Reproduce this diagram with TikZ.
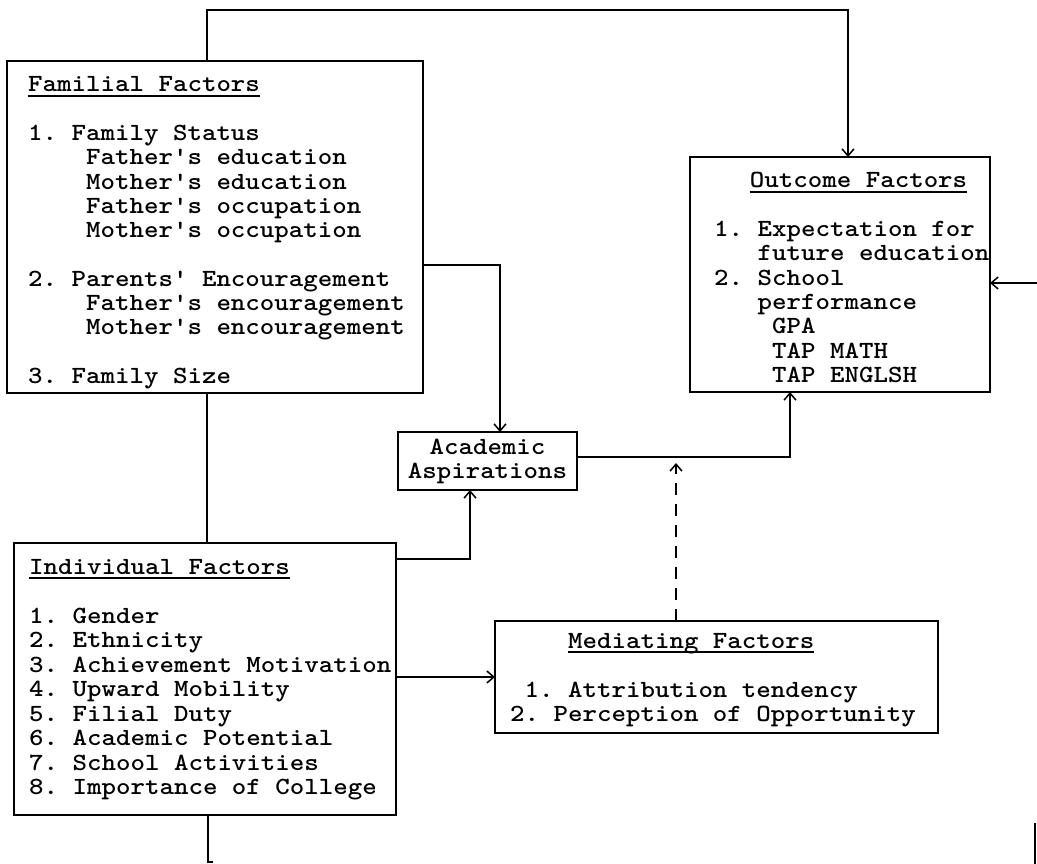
\documentclass[tikz,border=0pt]{standalone}
\usepackage{fontspec}
\usepackage{graphicx}
\usetikzlibrary{arrows.meta}
\newsavebox\ulbox
\newcommand\myul[1]{\sbox\ulbox{#1}\rlap{\rule[-4.6pt]{\wd\ulbox}{1.5pt}}\usebox\ulbox}
\newcommand\q{\textquotesingle}
\newcommand\wide[1]{\scalebox{1.117}[1]{#1}}
\tikzset{
  box/.style={draw, line width=1.5pt, inner sep=0pt, outer sep=0pt, anchor=north west},
  txt/.style={inner sep=0pt, anchor=base west, font=\ttfamily\bfseries\frenchspacing\fontsize{24.7pt}{24.3pt}\selectfont},
  txtb/.style={txt, font=\ttfamily\bfseries\frenchspacing\fontsize{24.7pt}{24.5pt}\selectfont},
  link/.style={line width=1.5pt},
  arr/.style={link, -{Straight Barb[length=7pt,width=12pt,line width=1.5pt]}},
}
\begin{document}
\begin{tikzpicture}[x=1pt, y=-1pt]
\useasboundingbox (0,0) rectangle (1037,864);

% boxes
\node[box, minimum width=416pt, minimum height=332pt] (fam) at (7,61) {};
\node[box, minimum width=300pt, minimum height=235pt] (out) at (690,157) {};
\node[box, minimum width=179pt, minimum height=58pt] (asp) at (398,432) {};
\node[box, minimum width=382pt, minimum height=272pt] (ind) at (14,543) {};
\node[box, minimum width=443pt, minimum height=112pt] (med) at (495,621) {};

% texts
\node[txt] (famtxt) at (28,92) {\wide{\begin{tabular}[t]{@{}l@{}}
\myul{Familial Factors}\\
\\
1. Family Status\\
\phantom{0000}Father\q s education\\
\phantom{0000}Mother\q s education\\
\phantom{0000}Father\q s occupation\\
\phantom{0000}Mother\q s occupation\\
\\
2. Parents\q{} Encouragement\\
\phantom{0000}Father\q s encouragement\\
\phantom{0000}Mother\q s encouragement\\
\\
3. Family Size
\end{tabular}}};

\node[txt] (outtxt) at (714,188) {\wide{\begin{tabular}[t]{@{}l@{}}
\hspace*{32pt}\myul{Outcome Factors}\\
\\
1. Expectation for\\
\phantom{000}future education\\
2. School\\
\phantom{000}performance\\
\phantom{0000}GPA\\
\phantom{0000}TAP MATH\\
\phantom{0000}TAP ENGLSH
\end{tabular}}};

\node[txt, anchor=base] (asptxt) at (487.5,454) {\wide{\begin{tabular}[t]{@{}c@{}}
Academic\\
Aspirations
\end{tabular}}};

\node[txtb] (indtxt) at (29,574) {\wide{\begin{tabular}[t]{@{}l@{}}
\myul{Individual Factors}\\
\\
1. Gender\\
2. Ethnicity\\
3. Achievement Motivation\\
4. Upward Mobility\\
5. Filial Duty\\
6. Academic Potential\\
7. School Activities\\
8. Importance of College
\end{tabular}}};

\node[txtb] (medtxt) at (510,648) {\wide{\begin{tabular}[t]{@{}l@{}}
\phantom{0000}\myul{Mediating Factors}\\
\\
\phantom{0}1. Attribution tendency\\
2. Perception of Opportunity
\end{tabular}}};

% connectors
\coordinate (t1) at (207,10);
\coordinate (t2) at (848,10);
\draw[arr] (fam.north -| t1) -- (t1) -- (t2) -- (t2 |- out.north);

\coordinate (fa) at (500,265);
\draw[arr] (fa -| fam.east) -- (fa) -- (fa |- asp.north);

\coordinate (ao) at (790,457);
\draw[arr] (ao -| asp.east) -- (ao) -- (ao |- out.south);

\coordinate (ia) at (470,559);
\draw[arr] (ia -| ind.east) -- (ia) -- (ia |- asp.south);

\draw[arr] (ind.east |- med.west) -- (med.west);

\draw[link] (fam.south -| t1) -- (ind.north -| t1);

\coordinate (md) at (676,463);
\draw[arr, dash pattern=on 12pt off 9pt] (md |- med.north) -- (md);

\coordinate (ra) at (1037,283);
\draw[arr] (ra) -- (ra -| out.east);

\coordinate (bt) at (208,862);
\draw[link] (ind.south -| bt) -- (bt) -- ++(5,0);

\coordinate (rb1) at (1035,823);
\coordinate (rb2) at (1035,864);
\draw[link] (rb1) -- (rb2);
\end{tikzpicture}
\end{document}
